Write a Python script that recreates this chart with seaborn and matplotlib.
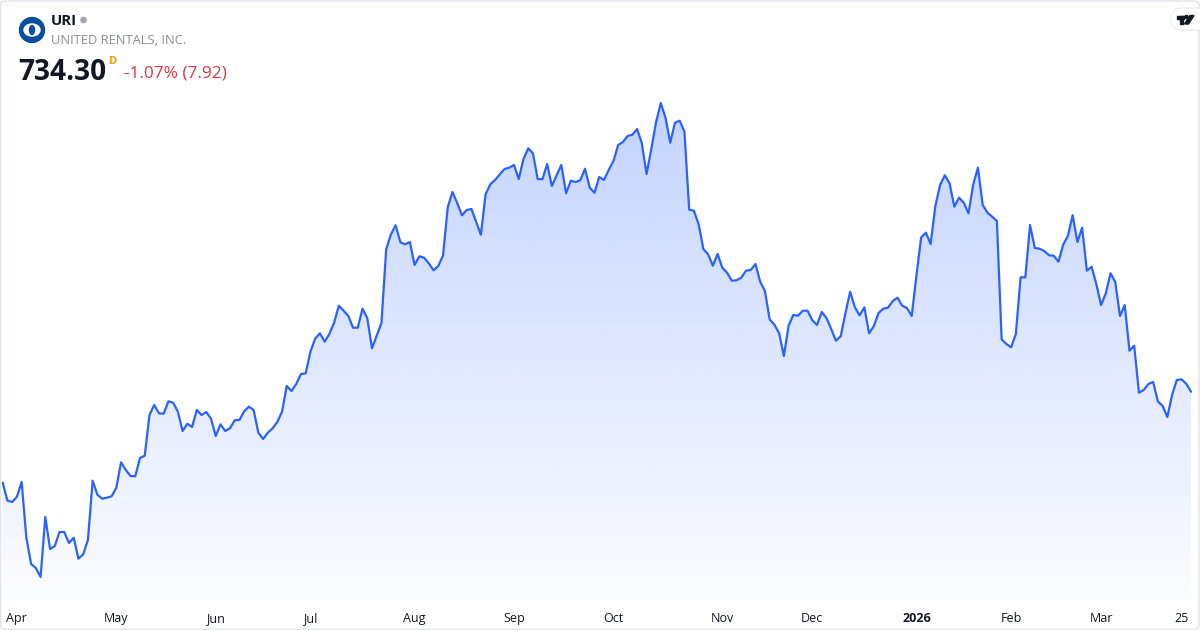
import numpy as np
import pandas as pd
import matplotlib
matplotlib.use("Agg")
import matplotlib.pyplot as plt
import seaborn as sns
from matplotlib.patches import FancyBboxPatch, Circle, Ellipse, Polygon, Rectangle

# ---------------- data ----------------
ticker = "URI"
company = "UNITED RENTALS, INC."
last_price = "734.30"
change_text = "-1.07% (7.92)"

holidays = ["2025-04-18", "2025-05-26", "2025-06-19", "2025-07-04", "2025-09-01",
            "2025-11-27", "2025-12-25", "2026-01-01", "2026-01-19", "2026-02-16"]
dates = pd.bdate_range("2025-03-27", "2026-03-27", freq="C", holidays=holidays)

prices = [
    643.3, 625.3, 624.0, 629.3, 644.0, 588.0, 562.0, 558.0, 549.0, 609.0,
    577.0, 580.0, 594.0, 594.0, 583.0, 588.3, 567.3, 571.7, 586.0, 645.3,
    631.3, 627.3, 628.3, 629.7, 638.3, 663.7, 656.0, 650.0, 649.7, 668.0,
    670.3, 711.0, 721.0, 712.7, 712.3, 724.7, 723.3, 714.3, 695.0, 702.3,
    699.0, 716.0, 711.0, 714.0, 707.3, 690.0, 701.7, 695.0, 697.7, 705.7,
    706.0, 714.7, 719.3, 716.0, 693.3, 687.0, 693.3, 697.7, 704.0, 714.3,
    740.0, 735.0, 742.0, 752.0, 752.7, 774.3, 787.3, 792.7, 784.3, 792.0,
    803.3, 820.3, 815.3, 810.0, 798.3, 798.3, 817.3, 808.0, 777.7, 790.5,
    803.0, 876.7, 891.7, 900.7, 883.7, 881.7, 884.0, 861.0, 869.7, 868.3,
    862.7, 855.7, 860.0, 870.3, 918.7, 934.0, 923.0, 910.7, 916.0, 917.0,
    904.0, 891.3, 931.7, 941.7, 946.0, 951.7, 957.0, 958.3, 961.0, 947.0,
    967.0, 977.7, 972.7, 947.0, 946.7, 962.0, 940.0, 950.7, 961.0, 932.7,
    945.3, 944.0, 945.7, 957.3, 938.3, 933.3, 949.0, 946.0, 956.0, 965.0,
    981.0, 984.0, 990.0, 991.3, 997.0, 982.7, 952.0, 977.0, 1003.7, 1023.0,
    1008.3, 983.3, 1003.3, 1005.3, 994.3, 916.3, 915.3, 901.7, 877.0, 871.7,
    860.3, 872.0, 858.3, 853.3, 845.3, 845.7, 848.3, 855.3, 856.0, 862.0,
    844.3, 835.0, 806.7, 801.3, 792.7, 770.0, 800.3, 811.0, 810.3, 815.3,
    815.3, 805.7, 801.0, 814.0, 808.0, 797.0, 785.3, 789.7, 812.7, 834.3,
    818.7, 810.7, 818.7, 792.7, 800.0, 813.0, 817.3, 818.3, 825.0, 828.3,
    820.3, 818.0, 810.0, 850.5, 888.5, 893.3, 882.0, 920.0, 941.0, 950.7,
    942.7, 919.3, 928.3, 923.3, 912.7, 941.7, 958.3, 921.0, 913.3, 909.3,
    905.0, 786.7, 782.0, 778.7, 792.0, 848.7, 848.7, 901.0, 878.0, 877.3,
    875.0, 870.7, 870.3, 864.3, 881.3, 890.2, 910.8, 884.0, 898.3, 855.3,
    859.2, 842.0, 821.0, 832.7, 852.7, 844.0, 810.0, 821.0, 775.3, 780.3,
    733.3, 736.0, 742.0, 744.0, 724.7, 720.0, 709.0, 731.0, 746.0, 746.7,
    742.2, 734.3,
]
month_labels = ["Apr", "May", "Jun", "Jul", "Aug", "Sep", "Oct", "Nov", "Dec",
                "2026", "Feb", "Mar"]
last_tick_label = "25"
last_tick_date = "2026-03-25"

n = min(len(dates), len(prices))
df = pd.DataFrame({"date": dates[:n], "price": prices[:n]})
df["idx"] = np.arange(n)

# tick positions: first trading day of each month (from April on)
firsts = df.groupby([df.date.dt.year, df.date.dt.month])["idx"].min().values
firsts = [f for f in firsts if df.date[f] >= pd.Timestamp("2025-04-01")]
tick_pos = list(firsts[:len(month_labels)])
tick_lab = list(month_labels[:len(tick_pos)])
lt = df.index[df.date == pd.Timestamp(last_tick_date)]
if len(lt):
    tick_pos.append(int(lt[0]))
    tick_lab.append(last_tick_label)

# ---------------- style ----------------
sns.set_theme(style="white")
plt.rcParams["font.family"] = ["Open Sans", "DejaVu Sans"]

W, H = 1200, 630
fig = plt.figure(figsize=(12, 6.3), dpi=100)
fig.patch.set_facecolor("white")

line_color = "#2962FF"

# axes: y pixels 95..600
ax = fig.add_axes([0, 1 - 600 / H, 1, (600 - 95) / H])
ax.set_facecolor("none")
ymin, ymax = 526.0, 1031.0
xmin, xmax = -0.57, 252.9
ax.set_xlim(xmin, xmax)
ax.set_ylim(ymin, ymax)

# gradient area
poly = ax.fill_between(df.idx, df.price, ymin, color="none", lw=0)
N = 256
alpha = np.linspace(0.015, 0.28, N)
grad = np.zeros((N, 1, 4))
grad[..., 0] = 41 / 255
grad[..., 1] = 98 / 255
grad[..., 2] = 1.0
grad[..., 3] = alpha[:, None]
top = max(df.price)
img = ax.imshow(grad, extent=[xmin, xmax, ymin, top], origin="lower",
                aspect="auto", zorder=1, interpolation="bilinear")
img.set_clip_path(poly.get_paths()[0], transform=ax.transData)
ax.set_xlim(xmin, xmax)
ax.set_ylim(ymin, ymax)

sns.lineplot(data=df, x="idx", y="price", ax=ax, color=line_color,
             linewidth=1.6, zorder=3)

for s in ax.spines.values():
    s.set_visible(False)
ax.set_yticks([])
ax.set_xlabel("")
ax.set_ylabel("")
ax.set_xticks(tick_pos)
ax.set_xticklabels(tick_lab)
ax.tick_params(axis="x", length=0, pad=8.6, labelsize=9, labelcolor="#131722")
for lab in ax.get_xticklabels():
    if lab.get_text() == "2026":
        lab.set_fontweight("bold")

# ---------------- card border ----------------
fig.patches.append(FancyBboxPatch((0.5 / W, 0.5 / H), (W - 1.5) / W, (H - 1.5) / H,
                                  boxstyle="round,pad=0,rounding_size=0.006",
                                  transform=fig.transFigure, fill=False,
                                  edgecolor="#e0e3eb", linewidth=1.0, zorder=0))

# ---------------- header ----------------
def fx(px):
    return px / W


def fy(py):
    return 1 - py / H

hdr = fig.add_axes([0, 0, 1, 1], zorder=5)
hdr.set_xlim(0, W)
hdr.set_ylim(H, 0)
hdr.axis("off")
hdr.set_facecolor("none")
# logo
hdr.add_patch(Circle((32, 30), 12.5, color="#0b4ea2"))
hdr.add_patch(Ellipse((32, 30), 16, 12, color="white"))
hdr.add_patch(Ellipse((32, 30), 5, 9, color="#0b4ea2"))

fig.text(fx(51), fy(21), ticker, fontsize=10.8, fontweight="bold", color="#131722",
         va="center", ha="left")
hdr.add_patch(Circle((83.5, 20), 2.6, color="#a3a6af"))
fig.text(fx(51), fy(41), company, fontsize=9.3, color="#8a8e99", va="center", ha="left")
fig.text(fx(18), fy(72), last_price, fontsize=20.2, fontweight="bold", color="#131722",
         va="center", ha="left")
fig.text(fx(109), fy(61), "D", fontsize=8, fontweight="bold", color="#ff9800",
         va="center", ha="left")
fig.text(fx(124), fy(74), change_text, fontsize=12.4, color="#e03440", va="center", ha="left")

# TradingView badge
hdr.add_patch(FancyBboxPatch((1172, 9), 40, 22, boxstyle="round,pad=0,rounding_size=11",
                             facecolor="#f0f1f4", edgecolor="none"))
hdr.add_patch(FancyBboxPatch((1171, 8), 40, 22, boxstyle="round,pad=0,rounding_size=11",
                             facecolor="white", edgecolor="#e6e7ea", linewidth=0.6))
hdr.add_patch(Rectangle((1176.5, 15.5), 7.5, 3, color="#131722"))
hdr.add_patch(Rectangle((1179.5, 15.5), 3, 8.5, color="#131722"))
hdr.add_patch(Circle((1186.5, 17), 1.6, color="#131722"))
hdr.add_patch(Polygon([(1190, 15.5), (1194, 15.5), (1188.5, 24), (1184.5, 24)],
                      closed=True, color="#131722"))

fig.savefig("out.png", dpi=100, facecolor="white")
